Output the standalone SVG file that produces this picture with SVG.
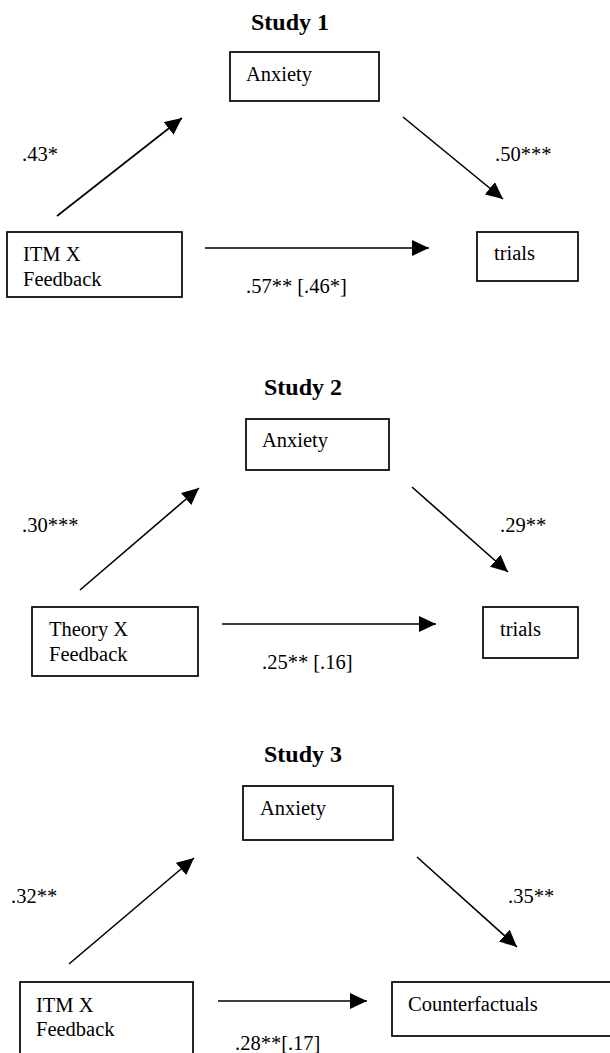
<svg xmlns="http://www.w3.org/2000/svg" width="610" height="1053" viewBox="0 0 610 1053">
<style>
.bx{fill:#fff;stroke:#000;stroke-width:1.7}
.t{font-family:"Liberation Serif","Times New Roman",serif;font-size:20.5px;fill:#000}
.h{font-family:"Liberation Serif","Times New Roman",serif;font-size:24px;font-weight:bold;fill:#000}
.ln{stroke:#000;stroke-width:1.6;fill:none;marker-end:url(#ah)}
</style>
<defs>
<marker id="ah" markerUnits="userSpaceOnUse" markerWidth="18" markerHeight="16" refX="17" refY="8" orient="auto">
<path d="M0,0 L17,8 L0,16 z" fill="#000"/>
</marker>
</defs>
<rect width="610" height="1053" fill="#fff"/>

<g id="title1"><text class="h" x="251" y="30">Study 1</text></g>
<g id="title2"><text class="h" x="264" y="395">Study 2</text></g>
<g id="title3"><text class="h" x="264" y="762">Study 3</text></g>

<g id="s1-anxiety"><rect class="bx" x="230" y="52" width="149" height="49"/><text class="t" x="246" y="81">Anxiety</text></g>
<g id="s1-itm"><rect class="bx" x="7" y="232" width="175" height="65"/><text class="t" x="23" y="261">ITM X</text><text class="t" x="23" y="286">Feedback</text></g>
<g id="s1-trials"><rect class="bx" x="477" y="232" width="101" height="49"/><text class="t" x="494" y="260">trials</text></g>

<g id="s2-anxiety"><rect class="bx" x="246" y="419" width="143" height="51"/><text class="t" x="262" y="447">Anxiety</text></g>
<g id="s2-theory"><rect class="bx" x="32" y="607" width="166" height="69"/><text class="t" x="49" y="636">Theory X</text><text class="t" x="49" y="661">Feedback</text></g>
<g id="s2-trials"><rect class="bx" x="483" y="607" width="95" height="51"/><text class="t" x="500" y="636">trials</text></g>

<g id="s3-anxiety"><rect class="bx" x="243" y="786" width="150" height="54"/><text class="t" x="260" y="815">Anxiety</text></g>
<g id="s3-itm"><rect class="bx" x="20" y="982" width="173" height="90"/><text class="t" x="36" y="1012">ITM X</text><text class="t" x="36" y="1036">Feedback</text></g>
<g id="s3-counter"><rect class="bx" x="392" y="982" width="230" height="54"/><text class="t" x="408" y="1011">Counterfactuals</text></g>

<g id="connectors">
<line class="ln" x1="57" y1="216" x2="182" y2="118"/>
<line class="ln" x1="403" y1="117" x2="503" y2="199"/>
<line class="ln" x1="205" y1="248" x2="429" y2="248"/>
<line class="ln" x1="80" y1="590" x2="199" y2="488"/>
<line class="ln" x1="412" y1="487" x2="508" y2="572"/>
<line class="ln" x1="222" y1="624" x2="436" y2="624"/>
<line class="ln" x1="69" y1="964" x2="194" y2="858"/>
<line class="ln" x1="417" y1="857" x2="517" y2="947"/>
<line class="ln" x1="218" y1="1001" x2="367" y2="1001"/>
</g>

<g id="labels">
<text class="t" x="22" y="161">.43*</text>
<text class="t" x="495" y="161">.50***</text>
<text class="t" x="246" y="293">.57** [.46*]</text>
<text class="t" x="22" y="532">.30***</text>
<text class="t" x="500" y="532">.29**</text>
<text class="t" x="262" y="669">.25** [.16]</text>
<text class="t" x="11" y="903">.32**</text>
<text class="t" x="508" y="903">.35**</text>
<text class="t" x="235" y="1050">.28**[.17]</text>
</g>
</svg>
